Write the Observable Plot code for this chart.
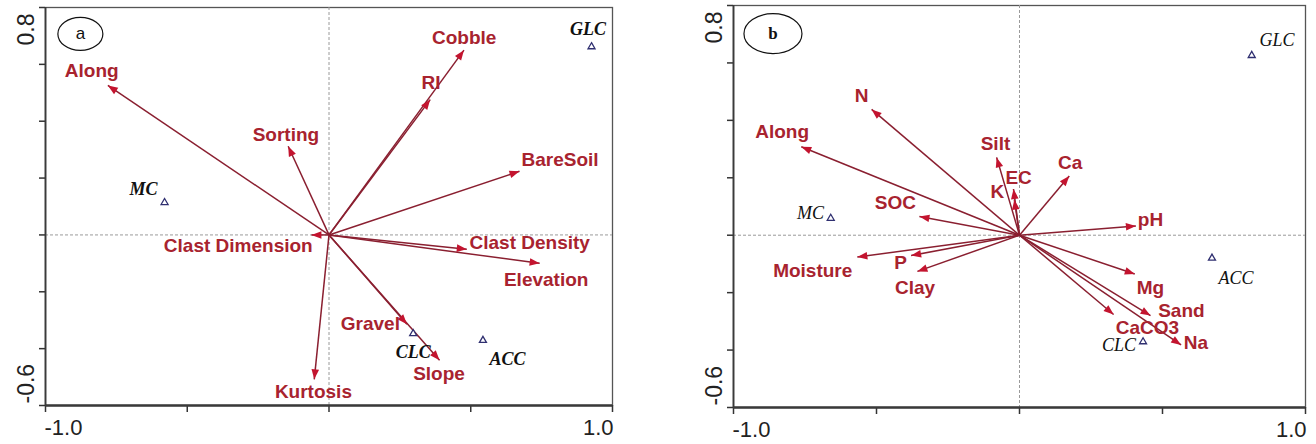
<!DOCTYPE html>
<html>
<head>
<meta charset="utf-8">
<script src="https://cdn.jsdelivr.net/npm/d3@7"></script>
<script src="https://cdn.jsdelivr.net/npm/@observablehq/plot@0.6"></script>
<style>
html, body { margin: 0; padding: 0; background: #fff; }
#wrap { display: flex; width: 1316px; height: 444px; overflow: hidden; }
#wrap svg { display: block; flex: none; }
</style>
</head>
<body>
<div id="wrap"></div>
<script>
// ---------- Panel a ----------
const aVars   = ["Along", "Cobble", "RI", "Sorting", "BareSoil", "Clast Dimension", "Clast Density", "Elevation", "Gravel", "Slope", "Kurtosis"];
const aArrowX = [-0.780, 0.476, 0.357, -0.144, 0.672, -0.062, 0.486, 0.743, 0.275, 0.390, -0.052];
const aArrowY = [ 0.526, 0.650, 0.476,  0.312, 0.224,  0.000, -0.050, -0.100, -0.314, -0.441, -0.508];
const aLabelX = [-0.837, 0.477, 0.360, -0.152, 0.815, -0.320, 0.708, 0.766, 0.146, 0.388, -0.055];
const aLabelY = [ 0.576, 0.694, 0.535,  0.353, 0.265, -0.039, -0.028, -0.159, -0.313, -0.488, -0.553];
const aSites  = ["GLC", "MC", "CLC", "ACC"];
const aSiteX  = [0.926, -0.580, 0.297, 0.543];
const aSiteY  = [0.662,  0.114, -0.347, -0.371];
const aSiteLX = [0.914, -0.654, 0.297, 0.630];
const aSiteLY = [0.722,  0.162, -0.412, -0.438];

// ---------- Panel b ----------
const bVars   = ["N", "Along", "Silt", "EC", "K", "Ca", "SOC", "pH", "Moisture", "P", "Clay", "Mg", "Sand", "CaCO3", "Na"];
const bArrowX = [-0.517, -0.763, -0.080, -0.021, -0.018, 0.174, -0.350, 0.407, -0.567, -0.379, -0.357, 0.403, 0.458, 0.329, 0.565];
const bArrowY = [ 0.438,  0.308,  0.271,  0.161,  0.124, 0.206,  0.065, 0.032, -0.076, -0.071, -0.126, -0.135, -0.280, -0.276, -0.382];
const bLabelX = [-0.552, -0.830, -0.084, -0.003, -0.077, 0.177, -0.434, 0.458, -0.723, -0.416, -0.365, 0.458, 0.566, 0.447, 0.617];
const bLabelY = [ 0.486,  0.359,  0.318,  0.198,  0.151, 0.253,  0.114, 0.055, -0.124, -0.096, -0.185, -0.185, -0.262, -0.323, -0.376];
const bSites  = ["GLC", "MC", "ACC", "CLC"];
const bSiteX  = [0.812, -0.660, 0.673, 0.432];
const bSiteY  = [0.626,  0.059, -0.080, -0.371];
const bSiteLX = [0.900, -0.731, 0.757, 0.348];
const bSiteLY = [0.679,  0.076, -0.151, -0.382];

// ---------- Axes ----------
const xDomain = [-1, 1];
const yDomain = [-0.6, 0.8];
const xTicks = [-1, -0.5, 0, 0.5, 1];
const yTicks = [-0.6, -0.4, -0.2, 0, 0.2, 0.4, 0.6, 0.8];
const xTickLabels = {"-1": "-1.0", "1": "1.0"};
const yTickLabels = {"0.8": "0.8", "-0.6": "-0.6"};
const panelTags = ["a", "b"];
const tagX = [-0.877, -0.862];
const tagY = [0.707, 0.702];

const ARROW = "#8a1f30", HEAD = "#c3142f", LABEL = "#a8232f", SITE = "#2f2f70";
const SANS = "Liberation Sans, Arial, sans-serif";
const SERIF = "Liberation Serif, Times New Roman, serif";

// arrowhead symbol: tip at origin, pointing up
const headSymbol = {draw(ctx) { const L = 10, W = 3.8; ctx.moveTo(0, 0); ctx.lineTo(-W, L); ctx.lineTo(W, L); ctx.closePath(); }};
function ellipseSymbol(rx, ry) {
  const k = 0.5523;
  return {draw(ctx) {
    ctx.moveTo(rx, 0);
    ctx.bezierCurveTo(rx, ry * k, rx * k, ry, 0, ry);
    ctx.bezierCurveTo(-rx * k, ry, -rx, ry * k, -rx, 0);
    ctx.bezierCurveTo(-rx, -ry * k, -rx * k, -ry, 0, -ry);
    ctx.bezierCurveTo(rx * k, -ry, rx, -ry * k, rx, 0);
    ctx.closePath();
  }};
}

function makePanel(o) {
  const arrows = o.vars.map((v, i) => ({name: v, x: o.ax[i], y: o.ay[i], lx: o.lx[i], ly: o.ly[i]}));
  const sites = o.sites.map((s, i) => ({name: s, x: o.sx[i], y: o.sy[i], lx: o.slx[i], ly: o.sly[i]}));
  const tag = [{name: panelTags[o.k], x: tagX[o.k], y: tagY[o.k]}];
  return Plot.plot({
    width: 658, height: 444,
    marginLeft: o.ml, marginRight: o.mr, marginTop: o.mt, marginBottom: o.mb,
    x: {domain: xDomain},
    y: {domain: yDomain},
    style: {background: "white", fontFamily: SANS, overflow: "visible"},
    marks: [
      Plot.frame({stroke: "#555", strokeWidth: 1.3}),
      Plot.ruleX([0], {stroke: "#9a9a9a", strokeDasharray: "3,2", strokeWidth: 1}),
      Plot.ruleY([0], {stroke: "#9a9a9a", strokeDasharray: "3,2", strokeWidth: 1}),
      // axes
      Plot.axisX({ticks: xTicks, tickSize: 7, tickFormat: () => "", stroke: "#333", strokeWidth: 1.5}),
      Plot.axisX({ticks: [-1], tickSize: 0, tickPadding: 14, tickFormat: d => xTickLabels[String(d)], textAnchor: "start", fontSize: 22, fill: "#222", dx: -1}),
      Plot.axisX({ticks: [1], tickSize: 0, tickPadding: 14, tickFormat: d => xTickLabels[String(d)], textAnchor: "end", fontSize: 22, fill: "#222", dx: 1}),
      Plot.axisY({ticks: yTicks, tickSize: 6, tickFormat: () => "", stroke: "#333", strokeWidth: 1.5}),
      Plot.axisY({ticks: [0.8], tickSize: 0, tickPadding: 12, rotate: -90, textAnchor: "end", lineAnchor: "bottom", tickFormat: d => yTickLabels[String(d)], fontSize: 23, fill: "#222", dy: 6}),
      Plot.axisY({ticks: [-0.6], tickSize: 0, tickPadding: 12, rotate: -90, textAnchor: "start", lineAnchor: "bottom", tickFormat: d => yTickLabels[String(d)], fontSize: 23, fill: "#222", dy: -2}),
      Plot.ruleY([yDomain[0]], {stroke: "#3a3a3a", strokeWidth: 2.4}),
      Plot.ruleX([xDomain[0]], {stroke: "#3a3a3a", strokeWidth: 1.8}),
      // panel tag
      Plot.dot(tag, {x: "x", y: "y", symbol: ellipseSymbol(o.rx, o.ry), stroke: "#111", strokeWidth: 1.2, fill: "none"}),
      Plot.text(tag, {x: "x", y: "y", text: "name", fontSize: 17, fontFamily: o.tagFont, fontWeight: o.tagWeight, fill: "#111"}),
      // arrows
      Plot.link(arrows, {x1: () => 0, y1: () => 0, x2: "x", y2: "y", stroke: ARROW, strokeWidth: 1.5}),
      Plot.dot(arrows, {x: "x", y: "y", symbol: headSymbol, fill: HEAD, stroke: "none",
        rotate: d => Math.atan2(d.x, d.y) * 180 / Math.PI}),
      Plot.text(arrows, {x: "lx", y: "ly", text: "name", fill: LABEL, fontSize: 19, fontWeight: "bold", fontFamily: SANS}),
      // sites
      Plot.dot(sites, {x: "x", y: "y", symbol: "triangle", r: 2.6, stroke: SITE, strokeWidth: 1.3, fill: "white"}),
      Plot.text(sites, {x: "lx", y: "ly", text: "name", fill: "#111", fontSize: o.siteSize, fontStyle: "italic", fontWeight: o.siteWeight, fontFamily: SERIF})
    ]
  });
}

const wrap = document.getElementById("wrap");
wrap.appendChild(makePanel({
  k: 0, vars: aVars, ax: aArrowX, ay: aArrowY, lx: aLabelX, ly: aLabelY,
  sites: aSites, sx: aSiteX, sy: aSiteY, slx: aSiteLX, sly: aSiteLY,
  ml: 45, mr: 46, mt: 7, mb: 39, rx: 22.5, ry: 16.5, tagFont: SANS, tagWeight: "normal",
  siteSize: 18, siteWeight: "bold"
}));
wrap.appendChild(makePanel({
  k: 1, vars: bVars, ax: bArrowX, ay: bArrowY, lx: bLabelX, ly: bLabelY,
  sites: bSites, sx: bSiteX, sy: bSiteY, slx: bSiteLX, sly: bSiteLY,
  ml: 75, mr: 11, mt: 5, mb: 37, rx: 29, ry: 20, tagFont: SERIF, tagWeight: "bold",
  siteSize: 18, siteWeight: "normal"
}));
</script>
</body>
</html>
